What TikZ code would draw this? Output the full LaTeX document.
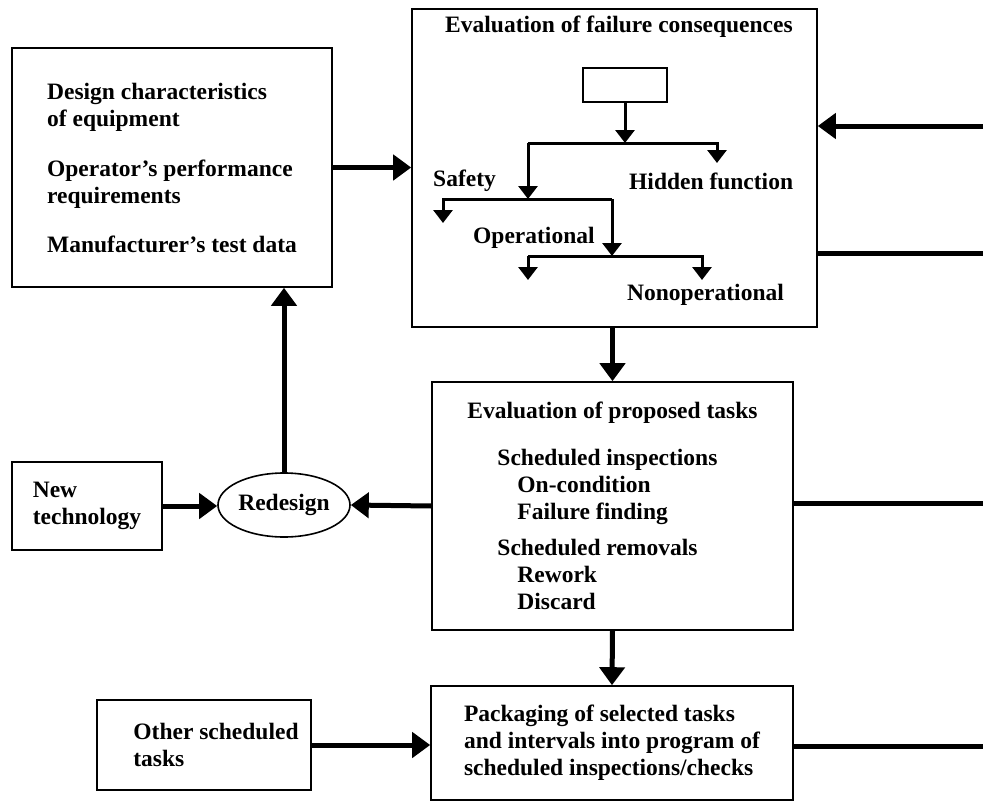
\documentclass[tikz,border=0pt]{standalone}
\usepackage{fontspec}
\setmainfont{Liberation Serif}
\usetikzlibrary{shapes.geometric,arrows.meta,positioning}

\begin{document}
\begin{tikzpicture}[x=1pt,y=-1pt,
  font=\fontsize{23.5}{27}\selectfont\bfseries,
  bx/.style={draw,line width=1.6pt,inner sep=0pt,align=left},
  ar/.style={-{Triangle[length=18pt,width=25pt]},line width=5pt},
  tr/.style={-{Triangle[length=13pt,width=19pt]},line width=3pt},
  ln/.style={line width=5pt},
  lb/.style={anchor=west,inner sep=0pt}]
\useasboundingbox (0,0) rectangle (989,806);
% consequences box with its decision tree
\node[bx,minimum width=405pt,minimum height=318pt] (fc) at (614.5,168) {};
\node (fct) at (619,27) {Evaluation of failure consequences};
\node[bx,minimum width=84pt,minimum height=34pt] (cr) at (625,85) {};
\coordinate (j1) at (625,143);
\coordinate (b1l) at (528,143);
\coordinate (b1r) at (717,143);
\coordinate (b2l) at (443,199);
\coordinate (b2r) at (612,199);
\coordinate (b3l) at (528,256);
\coordinate (b3r) at (702,256);
\draw[tr] (cr.south) -- (j1);
\draw[tr] (b1l) -- (b1r) -- ++(0,20);
\draw[tr] (b1l) -- (b1l |- b2l);
\draw[tr] (b2r) -- (b2l) -- ++(0,24);
\draw[tr] (b2r) -- (b2r |- b3l);
\draw[tr] (b3l) -- (b3r) -- ++(0,24);
\draw[tr] (b3l) -- ++(0,24);
\node[lb] (sf) at (433,181) {Safety};
\node[lb] (hf) at (629,181) {Hidden function};
\node[lb] (op) at (473,238) {Operational};
\node[lb] (no) at (627,295) {Nonoperational};
% the other boxes
\node[bx,minimum width=320pt,minimum height=239pt] (dc) at (172,167.5)
  {Design characteristics\\of equipment\\[23pt]Operator's performance\\requirements\\[22pt]Manufacturer's test data};
\node[bx,minimum width=361pt,minimum height=248pt] (pt) at (612.5,506)
  {Evaluation of proposed tasks\\[20pt]\hspace*{30pt}Scheduled inspections\\\hspace*{50pt}On-condition\\
   \hspace*{50pt}Failure finding\\[9pt]\hspace*{30pt}Scheduled removals\\\hspace*{50pt}Rework\\\hspace*{50pt}Discard};
\node[bx,minimum width=362pt,minimum height=114pt] (pk) at (612,743)
  {Packaging of selected tasks\\and intervals into program of\\scheduled inspections/checks};
\node[bx,minimum width=150pt,minimum height=88pt] (nt) at (87,506) {New\\technology};
\node[bx,minimum width=214pt,minimum height=90pt] (ot) at (204,745)
  {\hspace*{24pt}Other scheduled\\\hspace*{24pt}tasks};
\node[draw,ellipse,line width=1.6pt,minimum width=132pt,minimum height=64pt,inner sep=0pt] (rd) at (284,505) {Redesign};
% connectors
\draw[ar] (dc.east) -- (dc.east -| fc.west);
\draw[ar] (pt.north |- fc.south) -- (pt.north);
\draw[ar] (pt.south) -- (pk.north);
\draw[ar] (pt.west) -- (rd.east);
\draw[ar] (nt.east) -- (nt.east -| rd.west);
\draw[ar] (rd.north) -- (rd.north |- dc.south);
\draw[ar] (ot.east) -- (ot.east -| pk.west);
\coordinate (e1) at (983,126);
\coordinate (e2) at (983,253);
\coordinate (e3) at (983,503);
\coordinate (e4) at (983,746);
\draw[ar] (e1) -- (e1 -| fc.east);
\draw[ln] (e2 -| fc.east) -- (e2);
\draw[ln] (e3 -| pt.east) -- (e3);
\draw[ln] (e4 -| pk.east) -- (e4);
\end{tikzpicture}
\end{document}
